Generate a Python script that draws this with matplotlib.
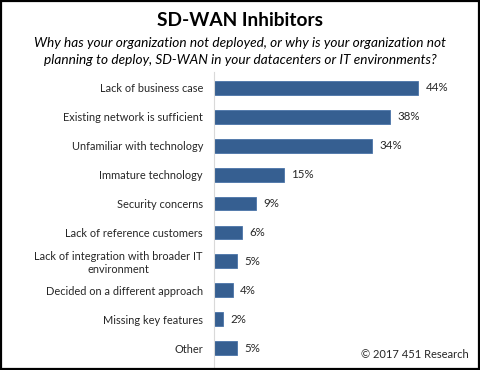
import matplotlib.pyplot as plt
from matplotlib.patches import Rectangle

plt.rcParams['font.family'] = ['Lato', 'DejaVu Sans']

categories = ["Lack of business case", "Existing network is sufficient",
              "Unfamiliar with technology", "Immature technology",
              "Security concerns", "Lack of reference customers",
              "Lack of integration with broader IT\nenvironment",
              "Decided on a different approach", "Missing key features", "Other"]
values = [44, 38, 34, 15, 9, 6, 5, 4, 2, 5]
value_labels = ["44%", "38%", "34%", "15%", "9%", "6%", "5%", "4%", "2%", "5%"]

fig = plt.figure(figsize=(4.81, 3.70), dpi=100)
ax = fig.add_axes([214 / 481, 6 / 370, 1 - 214 / 481 - 0.02, 1 - 78 / 370])

ypos = list(range(len(values)))
ax.barh(ypos, values, height=0.48, color='#365F91', edgecolor='#4A74A8', linewidth=0.6)
for y, v, lab in zip(ypos, values, value_labels):
    ax.text(v + 1.6, y, lab, va='center', ha='left', fontsize=8.3, color='#262626')

ax.set_ylim(len(values) - 0.45, -0.55)
ax.set_xlim(0, 55.5)
ax.set_yticks(ypos)
ax.set_yticklabels(categories, fontsize=7.9, color='#262626', linespacing=1.2)
ax.tick_params(axis='y', length=0, pad=8)
ax.set_xticks([])
for s in ['top', 'right', 'bottom']:
    ax.spines[s].set_visible(False)
ax.spines['left'].set_color('#D9D9D9')
ax.spines['left'].set_linewidth(0.8)
ax.spines['left'].set_bounds(-0.55, len(values) - 0.2)
for t in ax.get_yticklabels():
    t.set_multialignment('center')

fig.text(0.5, 1 - 20 / 370, "SD-WAN Inhibitors", ha='center', va='center',
         fontsize=13.8, fontweight='bold', color='black')
fig.text(0.5, 1 - 43 / 370,
         "Why has your organization not deployed, or why is your organization not",
         ha='center', va='center', fontsize=9.8, style='italic', color='black')
fig.text(0.5, 1 - 60 / 370,
         "planning to deploy, SD-WAN in your datacenters or IT environments?",
         ha='center', va='center', fontsize=9.8, style='italic', color='black')
fig.text(1 - 12 / 481, 1 - 354 / 370, "\u00a9 2017 451 Research", ha='right', va='center',
         fontsize=8, color='#262626')

fig.patches.append(Rectangle((0.002, 0.003), 0.994, 0.994, transform=fig.transFigure,
                             fill=False, edgecolor='black', linewidth=1.6))

fig.savefig('out.png', dpi=100)
